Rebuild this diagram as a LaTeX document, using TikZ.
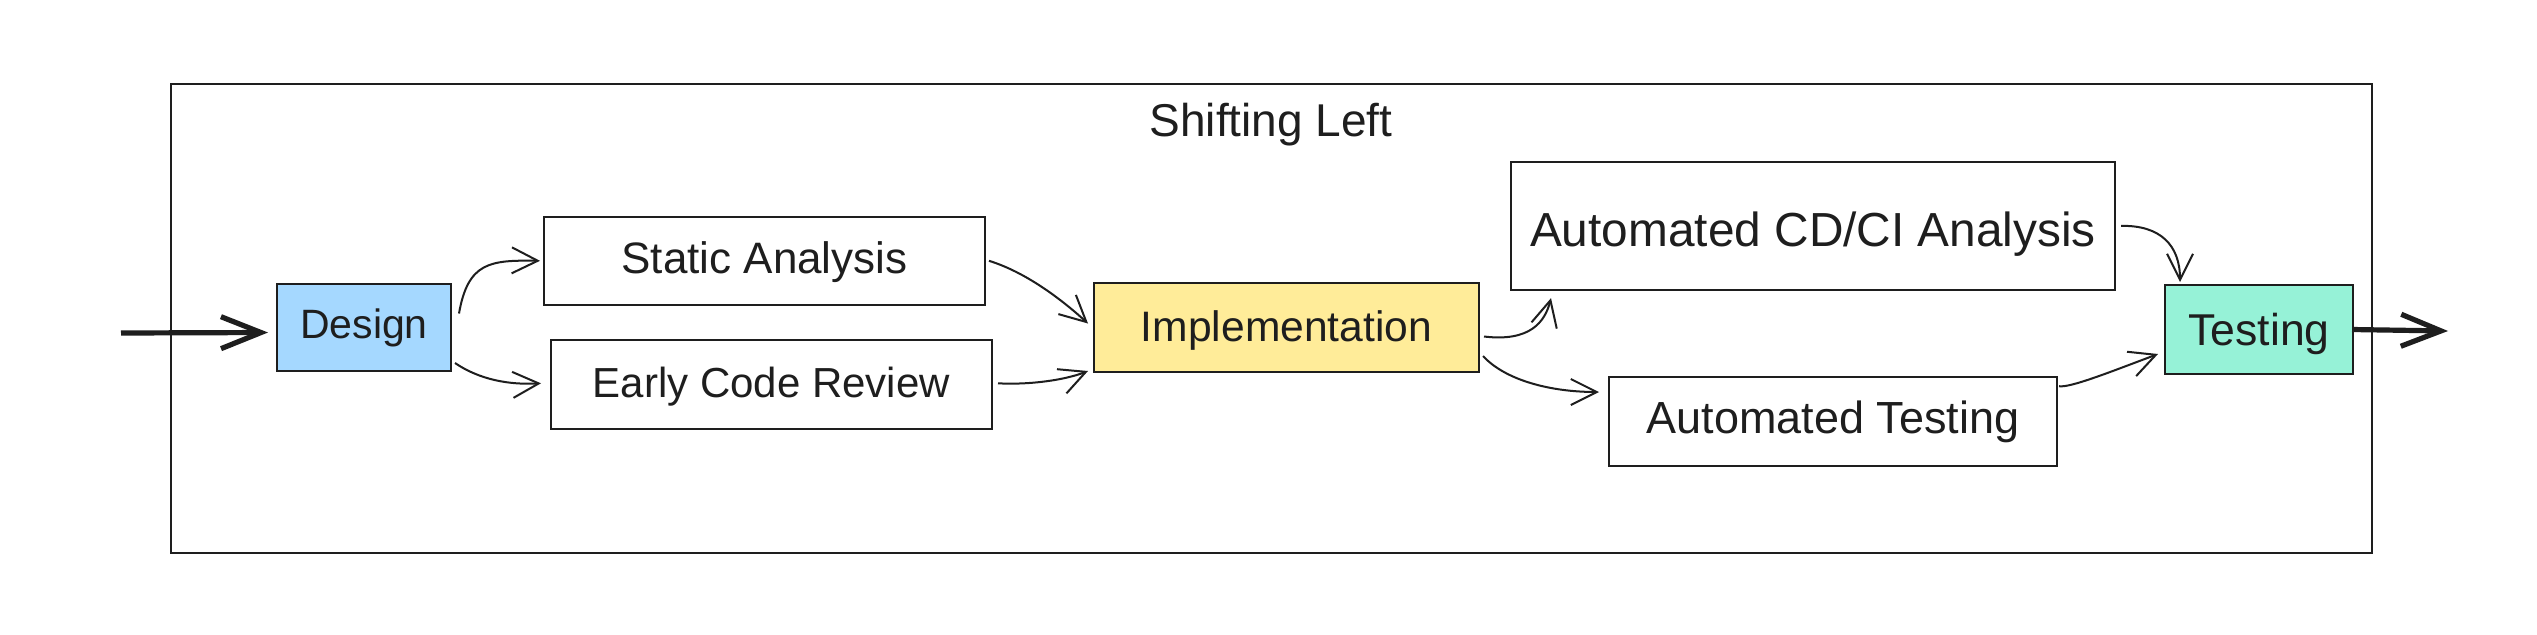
\documentclass[tikz,border=0pt]{standalone}
\usepackage{fontspec}
\setmainfont{Liberation Sans}
\usetikzlibrary{arrows.meta,calc}
\definecolor{stroke}{HTML}{1E1E1E}
\definecolor{blue1}{HTML}{A5D8FF}
\definecolor{yellow1}{HTML}{FFEC99}
\definecolor{green1}{HTML}{96F2D7}
\tikzset{
  stagebox/.style={draw=stroke, line width=1pt, rectangle, inner sep=0pt, text=stroke},
  txt/.style={font=\fontsize{#1}{#1}\selectfont},
  conn/.style={draw=stroke, line width=1pt, -{Straight Barb[length=13pt,width=13pt]}},
  bigarrow/.style={draw=stroke, line width=2.6pt, -{Straight Barb[length=20pt,width=16pt]}},
}
\begin{document}
\begin{tikzpicture}[x=0.5pt,y=-0.5pt]
\useasboundingbox (0,0) rectangle (2537,634);
\fill[white] (0,0) rectangle (2537,634);
% frame
\node[draw=stroke, line width=1pt, minimum width=1100.5pt, minimum height=234.5pt, inner sep=0pt] (frame) at (1271.5,318.5) {};
\node[txt=23, text=stroke, inner sep=0pt, text height=16.5pt, text depth=0pt] (title) at (1271,119.5) {Shifting Left};
% stages
\node[stagebox, fill=blue1, minimum width=87pt, minimum height=43.5pt, txt=20.5, text height=14.7pt, text depth=4pt] (design) at (364,327.5) {Design};
\node[stagebox, minimum width=220.5pt, minimum height=44pt, txt=22, text height=15.75pt, text depth=3.3pt] (static) at (764.5,260.8) {Static Analysis};
\node[stagebox, minimum width=220.5pt, minimum height=44.5pt, txt=21, text height=15pt, text depth=1.7pt] (ecr) at (771.5,384.3) {Early Code Review};
\node[stagebox, fill=yellow1, minimum width=192.5pt, minimum height=44.5pt, txt=21.3, text height=15.25pt, text depth=1.7pt] (impl) at (1286.5,327.5) {Implementation};
\node[stagebox, minimum width=302pt, minimum height=64.2pt, txt=23.9, text height=20.5pt, text depth=0pt] (ci) at (1813,225.9) {Automated CD/CI Analysis};
\node[stagebox, minimum width=224pt, minimum height=44.3pt, txt=22.5, text height=16.1pt, text depth=4pt] (at) at (1833,421.5) {Automated Testing};
\node[stagebox, fill=green1, minimum width=94pt, minimum height=44.5pt, txt=22.3, text height=16pt, text depth=0.5pt] (testing) at (2259,329.5) {Testing};
% free ends
\coordinate (in) at (121,333);
\coordinate (out) at (2448,331);
% connectors
\draw[bigarrow] (in) -- ($(design.west)+(-8,5)$);
\draw[bigarrow] ($(testing.east)+(-2,0)$) -- (out);
\draw[conn] ($(design.east)+(7,-14)$) .. controls (468,262) and (490,260) .. ($(static.west)+(-3,0)$);
\draw[conn] ($(design.east)+(3,35.5)$) .. controls (480,380) and (510,385) .. ($(ecr.west)+(-9,-1)$);
\draw[conn] ($(static.east)+(3,0)$) .. controls (1025,272) and (1060,298) .. ($(impl.west)+(-5,-4)$);
\draw[conn] ($(ecr.east)+(5,-1)$) .. controls (1030,385) and (1065,380) .. ($(impl.south west)+(-5,-2)$);
\draw[conn] ($(impl.east)+(4,9)$) .. controls (1530,342) and (1545,322) .. ($(ci.south west)+(41,7)$);
\draw[conn] ($(impl.east)+(3,28.5)$) .. controls (1505,380) and (1550,392) .. ($(at.west)+(-9,-29.5)$);
\draw[conn] ($(at.north east)+(1,10)$) .. controls (2070,388) and (2110,372) .. ($(testing.west)+(-6,24.5)$);
\draw[conn] ($(ci.east)+(5,0)$) .. controls (2160,225) and (2180,245) .. ($(testing.north west)+(16,-2)$);
\end{tikzpicture}
\end{document}
